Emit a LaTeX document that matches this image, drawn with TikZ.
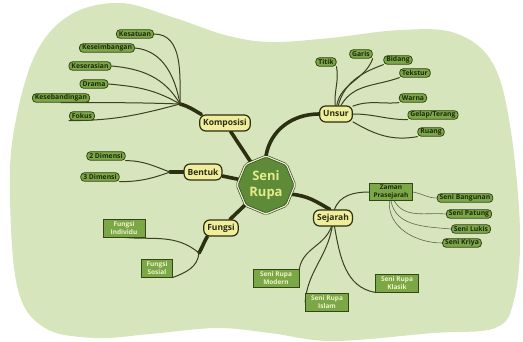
\documentclass[tikz,border=0pt]{standalone}
\usepackage{fontspec}
\setmainfont{Open Sans}
\usetikzlibrary{shapes.geometric}

\definecolor{blobgreen}{HTML}{D7E5BC}
\definecolor{leaffill}{HTML}{7CA747}
\definecolor{leafline}{HTML}{33461A}
\definecolor{leaftext}{HTML}{1E2A0C}
\definecolor{boxtext}{HTML}{EEF2C8}
\definecolor{topicfill}{HTML}{EEEE9C}
\definecolor{topicline}{HTML}{2C2D12}
\definecolor{hubfill}{HTML}{5D8B37}
\definecolor{hubline}{HTML}{2E3D16}
\definecolor{hubring}{HTML}{E6EDCB}
\definecolor{hubtext}{HTML}{E5EA8E}
\definecolor{branchcol}{HTML}{2A3010}
\definecolor{twigcol}{HTML}{3A4020}

\pgfdeclarelayer{back}
\pgfdeclarelayer{wires}
\pgfsetlayers{back,wires,main}

\begin{document}
\begin{tikzpicture}[x=1pt,y=-1pt,
  leaf/.style={draw=leafline, fill=leaffill, line width=0.8pt, rounded corners=3.5pt,
    font=\fontsize{6.8}{7}\selectfont\bfseries, text=leaftext,
    inner xsep=2.5pt, inner ysep=0pt, minimum height=8.5pt},
  boxleaf/.style={draw=leafline, fill=leaffill, line width=0.8pt,
    font=\fontsize{6.5}{7.8}\selectfont\bfseries, text=boxtext, align=center,
    inner xsep=1.5pt, inner ysep=1pt, minimum height=18pt},
  topic/.style={draw=topicline, fill=topicfill, line width=1.2pt, rounded corners=6pt,
    font=\fontsize{8.5}{9}\selectfont\bfseries, text=topicline,
    inner xsep=3.5pt, minimum height=16pt},
  hub/.style={regular polygon, regular polygon sides=8, shape border rotate=22.5,
    minimum size=58pt, rounded corners=2pt,
    fill=hubfill, draw=hubline, double=hubring, double distance=1.2pt, line width=0.6pt,
    text=hubtext, font=\fontsize{13}{16.5}\selectfont\bfseries, align=center, inner sep=0pt},
  branch/.style={draw=branchcol, line width=3.6pt, line cap=round},
  twig/.style={draw=twigcol, line width=1pt, line cap=round},
  fine/.style={draw=twigcol!80!white, line width=0.6pt, line cap=round}
]
\useasboundingbox (0,0) rectangle (523,342);

% background blob
\begin{pgfonlayer}{back}
\fill[blobgreen] plot[smooth cycle, tension=0.6] coordinates {
  (10,200) (14,130) (35,55) (70,15) (120,3) (175,18) (225,35) (270,42) (330,38)
  (400,30) (455,33) (492,62) (510,125) (520,230) (514,300) (495,328)
  (433,333) (333,341) (270,333) (217,328) (150,334) (95,338) (45,328) (18,290)};
\end{pgfonlayer}

% central topic and main branches
\node[hub] (hub) at (266,185) {Seni\\Rupa};
\node[topic] (komp) at (225,123) {Komposisi};
\node[topic] (unsur) at (336,114) {Unsur};
\node[topic] (bentuk) at (203,172) {Bentuk};
\node[topic] (fungsi) at (221,228) {Fungsi};
\node[topic] (sejarah) at (333,218) {Sejarah};

% Komposisi
\node[leaf] (kesatuan) at (135,34) {Kesatuan};
\node[leaf] (keseimbangan) at (107,48) {Keseimbangan};
\node[leaf] (keserasian) at (90,66) {Keserasian};
\node[leaf] (drama) at (94,84) {Drama};
\node[leaf] (kesebandingan) at (61,98) {Kesebandingan};
\node[leaf] (fokus) at (82,116) {Fokus};
\coordinate (jk) at (180,104);

% Unsur
\node[leaf] (titik) at (326,62) {Titik};
\node[leaf] (garis) at (361,54) {Garis};
\node[leaf] (bidang) at (398,60) {Bidang};
\node[leaf] (tekstur) at (415,73) {Tekstur};
\node[leaf] (warna) at (413,98) {Warna};
\node[leaf] (gelap) at (433,115) {Gelap/Terang};
\node[leaf] (ruang) at (431,132) {Ruang};

% Bentuk
\node[leaf] (dua) at (106,156) {2 Dimensi};
\node[leaf] (tiga) at (100,177) {3 Dimensi};
\coordinate (jb) at (170,172);

% Fungsi
\node[boxleaf, minimum width=42pt] (individu) at (124,228) {Fungsi\\Individu};
\node[boxleaf, minimum width=31pt] (sosial) at (157,268) {Fungsi\\Sosial};
\coordinate (jf) at (199,253);

% Sejarah
\node[boxleaf, minimum width=43pt, minimum height=17pt, text=leaftext] (zaman) at (391,192) {Zaman\\Prasejarah};
\node[boxleaf, minimum width=46pt] (modern) at (276,278) {Seni Rupa\\Modern};
\node[boxleaf, minimum width=43pt] (islam) at (327,302) {Seni Rupa\\Islam};
\node[boxleaf, minimum width=43pt] (klasik) at (397,283) {Seni Rupa\\Klasik};
\node[leaf] (bangunan) at (465,198) {Seni Bangunan};
\node[leaf] (patung) at (469,214) {Seni Patung};
\node[leaf] (lukis) at (471,229) {Seni Lukis};
\node[leaf] (kriya) at (462,243) {Seni Kriya};

\begin{pgfonlayer}{wires}
% thick branches
\draw[branch] (komp) -- (hub);
\draw[branch] (unsur.west) to[out=180,in=80] (hub.north);
\draw[branch] (bentuk) -- (hub);
\draw[branch] (fungsi) -- (hub);
\draw[branch] (hub.-20) to[out=-5,in=150] (sejarah.110);
\draw[branch] (jk) to[out=-15,in=150] (komp.160);
\draw[branch] (jb) -- (bentuk.west);
\draw[branch] (jf) to[out=60,in=-120] (fungsi.212);

% Komposisi twigs
\draw[twig] (kesatuan.east) to[out=0,in=90] (jk);
\draw[twig] (keseimbangan.east) to[out=-5,in=100] (jk);
\draw[twig] (keserasian.east) to[out=-5,in=120] (jk);
\draw[twig] (drama.east) to[out=-5,in=150] (jk);
\draw[twig] (kesebandingan.south) to[out=0,in=178] (jk);
\draw[twig] (fokus.south west) to[out=0,in=195] (jk);

% Unsur twigs
\draw[twig] (titik.south east) to[out=-80,in=95] (unsur.95);
\draw[twig] (garis.south east) to[out=-110,in=80] (unsur.85);
\draw[twig] (bidang.south west) to[out=200,in=75] (unsur.75);
\draw[twig] (tekstur.south west) to[out=200,in=60] (unsur.60);
\draw[twig] (warna.south west) to[out=185,in=20] (unsur.25);
\draw[twig] (gelap.south west) to[out=180,in=0] (unsur.east);
\draw[twig] (ruang.south west) to[out=190,in=-30] (unsur.-25);

% Bentuk twigs
\draw[twig] (dua.south east) to[out=0,in=160] (jb);
\draw[twig] (tiga.south east) to[out=0,in=200] (jb);

% Fungsi twigs
\draw[twig] (individu.south) to[out=-5,in=140] (jf);
\draw[twig] (jf) to[out=-95,in=20] (sosial.south east);

% Sejarah twigs
\draw[twig] (sejarah.80) to[out=70,in=180] (zaman.west);
\draw[twig] (sejarah.-100) to[out=-110,in=80] (modern.north east);
\draw[twig] (sejarah.-95) to[out=-100,in=85] (islam.west);
\draw[twig] (sejarah.-80) to[out=-80,in=170] (klasik.south west);
\draw[fine] (zaman.east) to[out=-10,in=180] (bangunan.west);
\draw[fine] (zaman.-70) to[out=-60,in=175] (patung.west);
\draw[fine] (zaman.-90) to[out=-80,in=175] (lukis.west);
\draw[fine] (zaman.-100) to[out=-95,in=180] (kriya.west);
\end{pgfonlayer}
\end{tikzpicture}
\end{document}
